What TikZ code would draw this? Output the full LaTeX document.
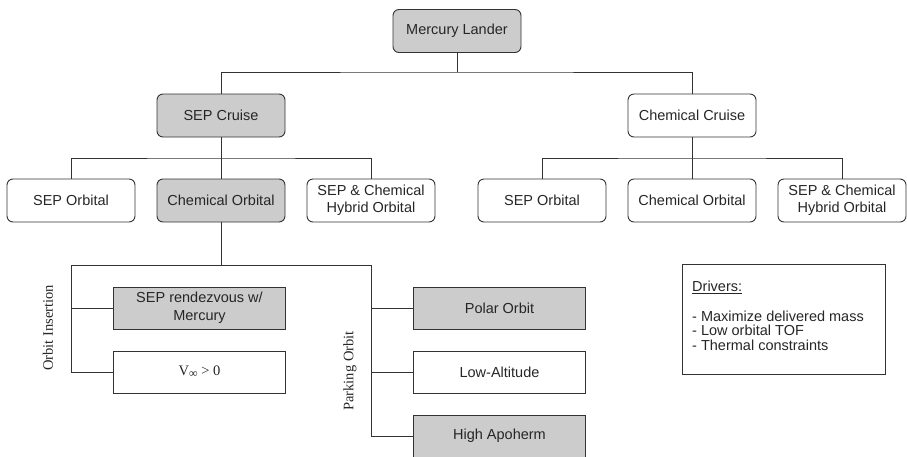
\documentclass[tikz,border=0pt]{standalone}
\usepackage{fontspec}
\setmainfont{Liberation Sans}
\newfontfamily\tms{Liberation Serif}
\begin{document}
\begin{tikzpicture}[x=1pt,y=-1pt,
  every node/.style={font=\fontsize{14.5}{17}\selectfont, text=black!85},
  rbox/.style={draw=black!80, line width=0.9pt, rounded corners=6pt, minimum width=128pt, minimum height=43pt, align=center, inner sep=0pt},
  sbox/.style={draw=black!80, line width=0.9pt, minimum width=172pt, minimum height=42pt, align=center, inner sep=0pt},
  gray/.style={fill=black!20},
  conn/.style={draw=black!80, line width=0.9pt},
  vlab/.style={rotate=90, font=\tms\fontsize{14.5}{17}\selectfont}]
\useasboundingbox (0,0) rectangle (907,456);
% level 0
\node[rbox,gray] (ML) at (457,31) {Mercury Lander};
% level 1
\node[rbox,gray] (SC) at (221,115.5) {SEP Cruise};
\node[rbox] (CC) at (692,115.5) {Chemical Cruise};
% level 2 left
\node[rbox] (LSO) at (71,200.5) {SEP Orbital};
\node[rbox,gray] (LCO) at (221,200.5) {Chemical Orbital};
\node[rbox] (LHO) at (371,200.5) {SEP \& Chemical\\Hybrid Orbital};
% level 2 right
\node[rbox] (RSO) at (542,200.5) {SEP Orbital};
\node[rbox] (RCO) at (692,200.5) {Chemical Orbital};
\node[rbox] (RHO) at (842,200.5) {SEP \& Chemical\\Hybrid Orbital};
% level 3
\node[sbox,gray,font=\fontsize{14.5}{18}\selectfont] (SR) at (199.5,308) {SEP rendezvous w/\\Mercury};
\node[sbox,font=\tms\fontsize{14.5}{17}\selectfont] (VI) at (199.5,372) {V\raisebox{-0.35ex}{\fontsize{12}{12}\selectfont ∞} > 0};
\node[sbox,gray] (PO) at (499.5,308) {Polar Orbit};
\node[sbox] (LA) at (499.5,372) {Low-Altitude};
\node[sbox,gray] (HA) at (499.5,436) {High Apoherm};
% rotated labels
\node[vlab] (OI) at (48,328) {Orbit Insertion};
\node[vlab] (PK) at (350,371) {Parking Orbit};
% drivers box
\node[draw=black!80, line width=0.9pt, minimum width=203pt, minimum height=110pt, inner sep=0pt] (DR) at (783.5,319) {};
\node[anchor=north west, align=left, inner sep=0pt, font=\fontsize{14.5}{14.5}\selectfont] (DT) at (692,281) {\underline{Drivers:}\\[15pt]- Maximize delivered mass\\- Low orbital TOF\\- Thermal constraints};
% connectors
\coordinate (j0) at (457,72);
\path[conn] (ML.south) -- (j0);
\path[conn] (SC.north) |- (j0) -| (CC.north);
\coordinate (j1) at (221,158);
\path[conn] (SC.south) -- (LCO.north);
\path[conn] (LSO.north) |- (j1) -| (LHO.north);
\coordinate (j2) at (692,158);
\path[conn] (CC.south) -- (RCO.north);
\path[conn] (RSO.north) |- (j2) -| (RHO.north);
\coordinate (j3) at (221,265);
\coordinate (jl) at (71,265);
\coordinate (jr) at (371,265);
\path[conn] (LCO.south) -- (j3);
\path[conn] (jl) -- (jr);
\path[conn] (jl) |- (VI.west);
\path[conn] (SR.west) -- (SR.west -| jl);
\path[conn] (jr) |- (HA.west);
\path[conn] (PO.west) -- (PO.west -| jr);
\path[conn] (LA.west) -- (LA.west -| jr);
\end{tikzpicture}
\end{document}
